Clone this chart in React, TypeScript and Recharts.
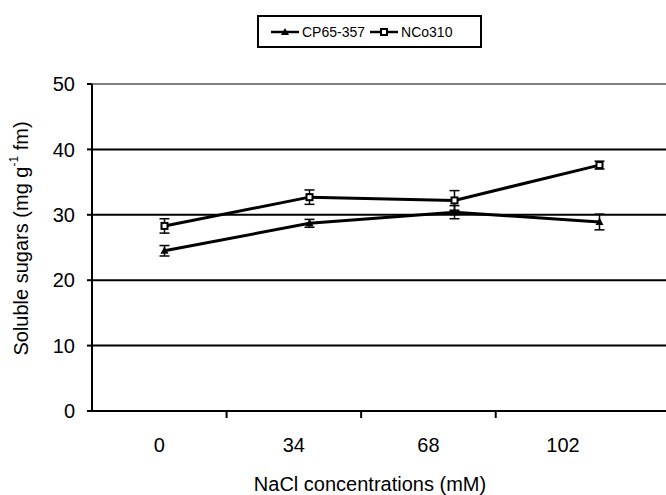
import { LineChart, Line, XAxis, YAxis, CartesianGrid, ReferenceLine, ErrorBar, Label } from "recharts";

const NACL = [0, 34, 68, 102];
const CATEGORIES = ["0", "34", "68", "102"];
const CP65 = [24.5, 28.7, 30.4, 28.9];
const CP65_ERR = [0.8, 0.6, 1.0, 1.2];
const NCO310 = [28.3, 32.7, 32.2, 37.6];
const NCO310_ERR = [1.1, 1.1, 1.5, 0.6];
const Y_TICKS = [0, 10, 20, 30, 40, 50];
// label axis runs in category slots: names at slot centres, tick marks between slots
const CAT_TICKS = [0.5, 1, 1.5, 2, 2.5, 3, 3.5];

const FONT = '"Liberation Sans", Arial, sans-serif';

const data = NACL.map((n, i) => ({
  nacl: n,
  cp: CP65[i],
  cpErr: CP65_ERR[i],
  nco: NCO310[i],
  ncoErr: NCO310_ERR[i],
}));

function TriangleDot(props: any) {
  const { cx, cy, index } = props;
  return <polygon key={`t${index}`} points={`${cx},${cy - 4.5} ${cx - 4},${cy + 3} ${cx + 4},${cy + 3}`} fill="#000" />;
}

function SquareDot(props: any) {
  const { cx, cy, index } = props;
  return <rect key={`s${index}`} x={cx - 3} y={cy - 3} width={6} height={6} fill="#fff" stroke="#000" strokeWidth={2} />;
}

function CatTick(props: any) {
  const { x, y, payload } = props;
  const v = payload.value;
  if (Number.isInteger(v)) {
    return <line x1={x} x2={x} y1={y} y2={y + 7} stroke="#000" strokeWidth={2} />;
  }
  return (
    <text x={x} y={y + 41} textAnchor="middle" fontSize={20} fill="#000" fontFamily={FONT}>
      {CATEGORIES[Math.floor(v)]}
    </text>
  );
}

function LegendBox() {
  const item = (name: string, square: boolean) => (
    <div style={{ display: "flex", alignItems: "center", marginRight: 5 }}>
      <svg width={28} height={10}>
        <line x1={0} x2={28} y1={5} y2={5} stroke="#000" strokeWidth={2.5} />
        {square ? (
          <rect x={11} y={2} width={6} height={6} fill="#fff" stroke="#000" strokeWidth={2} />
        ) : (
          <polygon points="14,1 10,8 18,8" fill="#000" />
        )}
      </svg>
      <span style={{ marginLeft: 3 }}>{name}</span>
    </div>
  );
  return (
    <div
      style={{
        position: "absolute",
        left: 257,
        top: 15,
        width: 225,
        height: 33,
        boxSizing: "border-box",
        border: "2px solid #000",
        display: "flex",
        alignItems: "center",
        justifyContent: "flex-start",
        fontFamily: FONT,
        fontSize: 14,
        color: "#000",
        paddingLeft: 12,
      }}
    >
      {item("CP65-357", false)}
      {item("NCo310", true)}
    </div>
  );
}

export default function App() {
  return (
    <div style={{ position: "fixed", left: 0, top: 0, width: 666, height: 495, overflow: "hidden", background: "#fff" }}>
      <LineChart width={672} height={495} data={data} margin={{ top: 84, right: 0, bottom: 0, left: 0 }} style={{ fontFamily: FONT }}>
        <XAxis xAxisId="pts" type="number" dataKey="nacl" domain={[-17, 119]} hide />
        <XAxis
          xAxisId="cat"
          type="number"
          dataKey="nacl"
          domain={[0, 4.31]}
          allowDataOverflow
          ticks={CAT_TICKS}
          interval={0}
          height={84}
          tickSize={0}
          tickMargin={0}
          tickLine={false}
          axisLine={{ stroke: "#000", strokeWidth: 2 }}
          tick={<CatTick />}
        >
          <Label
            content={(p: any) => {
              const vb = p.viewBox;
              return (
                <text x={vb.x + 278} y={vb.y + 80} textAnchor="middle" fontSize={20} fill="#000" fontFamily={FONT}>
                  NaCl concentrations (mM)
                </text>
              );
            }}
          />
        </XAxis>
        <YAxis
          domain={[0, 50]}
          ticks={Y_TICKS}
          width={92}
          tickSize={5}
          tickMargin={12}
          tick={{ fontSize: 20, fill: "#000" }}
          tickLine={{ stroke: "#000", strokeWidth: 2 }}
          axisLine={{ stroke: "#000", strokeWidth: 2 }}
        >
          <Label
            content={(p: any) => {
              const vb = p.viewBox;
              const cx = vb.x + 21;
              const cy = vb.y + vb.height / 2 - 9;
              return (
                <text
                  x={cx}
                  y={cy}
                  transform={`rotate(-90 ${cx} ${cy})`}
                  textAnchor="middle"
                  dominantBaseline="central"
                  fontSize={20}
                  fill="#000"
                  fontFamily={FONT}
                >
                  Soluble sugars (mg g
                  <tspan dy={-7} fontSize={12}>
                    -1
                  </tspan>
                  <tspan dy={7}> fm)</tspan>
                </text>
              );
            }}
          />
        </YAxis>
        <CartesianGrid xAxisId="pts" vertical={false} stroke="#000" strokeWidth={2} />
        <ReferenceLine xAxisId="pts" y={50} stroke="#808080" strokeWidth={2} />
        <Line xAxisId="pts" dataKey="cp" stroke="#000" strokeWidth={3} dot={TriangleDot} isAnimationActive={false}>
          <ErrorBar dataKey="cpErr" width={5} stroke="#000" strokeWidth={1.5} direction="y" />
        </Line>
        <Line xAxisId="pts" dataKey="nco" stroke="#000" strokeWidth={3} dot={SquareDot} isAnimationActive={false}>
          <ErrorBar dataKey="ncoErr" width={5} stroke="#000" strokeWidth={1.5} direction="y" />
        </Line>
      </LineChart>
      <LegendBox />
    </div>
  );
}
